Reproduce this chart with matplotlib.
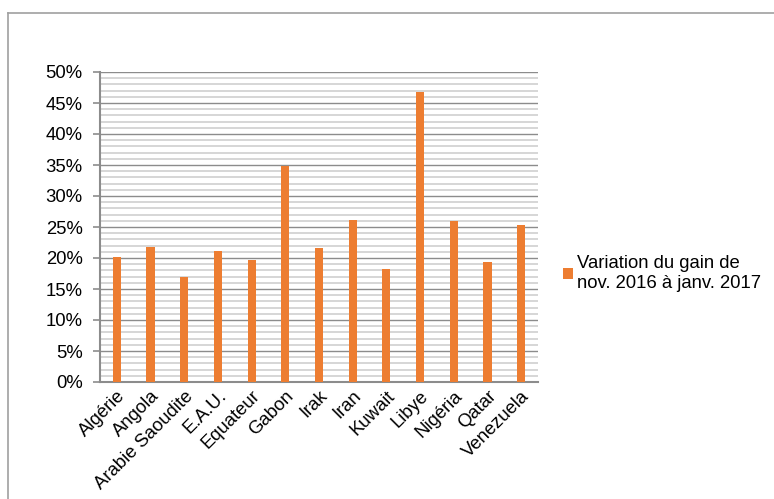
import matplotlib.pyplot as plt
from matplotlib.lines import Line2D
from matplotlib.ticker import MultipleLocator, PercentFormatter
import numpy as np

plt.rcParams['font.family'] = ['Liberation Sans', 'DejaVu Sans']

# données
pays = ["Algérie", "Angola", "Arabie Saoudite", "E.A.U.", "Equateur", "Gabon",
        "Irak", "Iran", "Kuwait", "Libye", "Nigéria", "Qatar", "Venezuela"]
variation = [20.1, 21.7, 17.0, 21.1, 19.7, 34.9, 21.6, 26.1, 18.3, 46.8, 26.0, 19.4, 25.3]
serie = "Variation du gain de\nnov. 2016 à janv. 2017"

W, H = 774, 499
fig = plt.figure(figsize=(W / 100, H / 100), dpi=100)
ax = fig.add_axes([100 / W, (H - 382) / H, 438 / W, 310 / H])

x = np.arange(len(pays))
bars = ax.bar(x, variation, width=0.24, color="#ed7d31", label=serie, zorder=3)

ax.set_xlim(-0.5, len(pays) - 0.5)
ax.set_ylim(0, 50)
ax.yaxis.set_major_locator(MultipleLocator(5))
ax.yaxis.set_minor_locator(MultipleLocator(1))
ax.yaxis.set_major_formatter(PercentFormatter(decimals=0))
ax.grid(which="major", axis="y", color="#8c8c8c", lw=1.0, zorder=1)
ax.grid(which="minor", axis="y", color="#d0d0d0", lw=1.2, zorder=1)

for s in ["top", "right"]:
    ax.spines[s].set_visible(False)
for s in ["left", "bottom"]:
    ax.spines[s].set_color("#8c8c8c")
    ax.spines[s].set_linewidth(1.5)

ax.tick_params(axis="y", which="major", length=5, width=1.2, color="#8c8c8c",
               labelsize=13.3, pad=7.5)
ax.tick_params(axis="y", which="minor", length=0)
ax.tick_params(axis="x", length=0, labelsize=13.3, pad=4)
ax.set_xticks(x)
ax.set_xticklabels(pays, rotation=45, ha="right", rotation_mode="anchor")
for lbl in ax.get_xticklabels():
    lbl.set_x(lbl.get_position()[0])

ax.legend(handles=[bars], loc="center left", bbox_to_anchor=(1.019, 0.35),
          frameon=False, fontsize=13.3, handlelength=0.55, handleheight=0.55,
          handletextpad=0.2, labelspacing=0.3)

# cadre
fig.add_artist(Line2D([8 / W, 1], [(H - 13) / H] * 2, color="#a0a0a0", lw=1.2))
fig.add_artist(Line2D([8 / W] * 2, [0, (H - 13) / H], color="#a0a0a0", lw=1.2))

fig.savefig("out.png", dpi=100)
